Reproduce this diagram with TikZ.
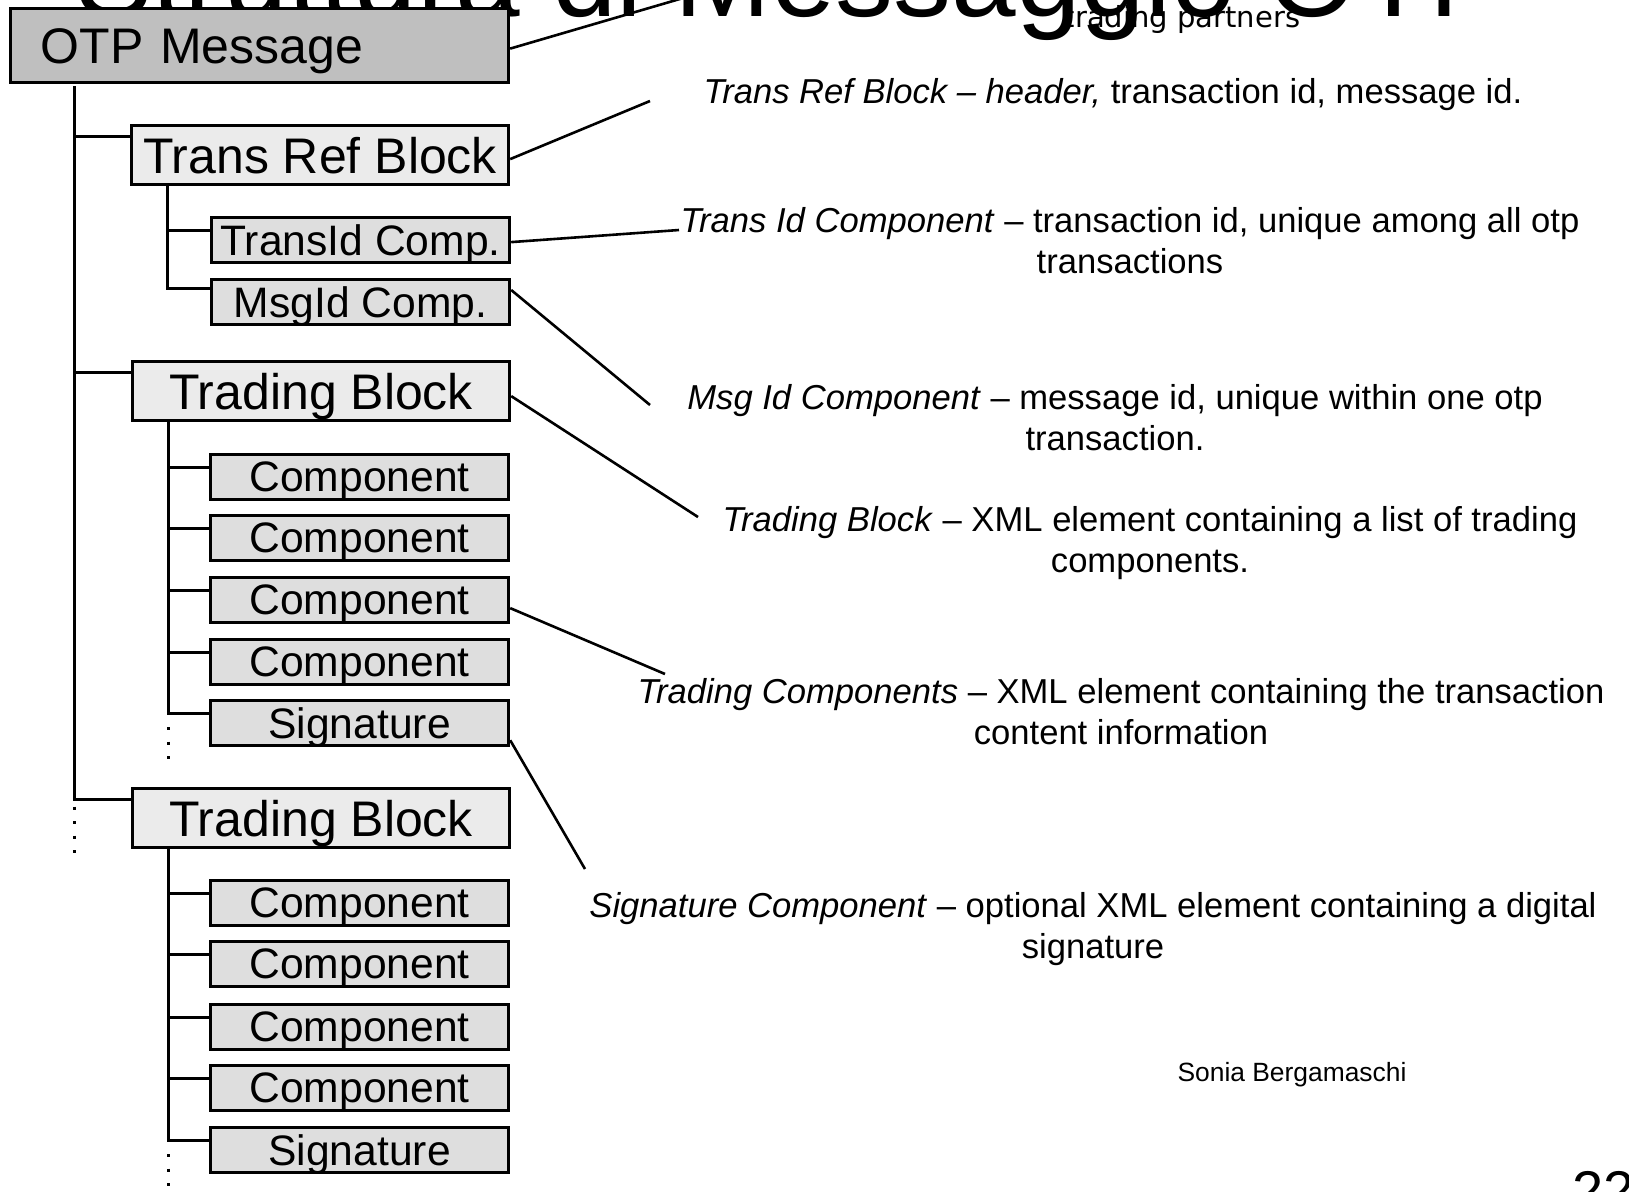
\documentclass[tikz,border=0pt]{standalone}
\usepackage{fontspec}
\setmainfont{Liberation Sans}
\newfontfamily\dejavu{DejaVu Sans}
\usetikzlibrary{positioning}

\tikzset{
    blk/.style={draw, line width=1.6pt, fill=black!8, inner sep=0pt, anchor=north west, text depth=0pt,
        minimum width=188.5pt, minimum height=29.5pt, font=\fontsize{25}{25}\selectfont},
    comp/.style={draw, line width=1.6pt, fill=black!13, inner sep=0pt, anchor=north west, text depth=0pt,
        minimum width=149pt, minimum height=22.5pt, font=\fontsize{21.3}{21.3}\selectfont},
    desc/.style={align=center, font=\fontsize{17.3}{20.5}\selectfont},
    tree/.style={line width=1.5pt},
    lead/.style={line width=1.3pt},
    contdots/.style={line width=1.5pt, dash pattern=on 1.5pt off 5.75pt},
}

\begin{document}
\begin{tikzpicture}[x=0.5pt, y=-0.5pt]
    \useasboundingbox (0,0) rectangle (1629,1191);
    \fill[white] (0,0) rectangle (1629,1191);

    % title, cut by the top edge
    \node[font=\fontsize{58}{58}\selectfont, anchor=base] (title) at (791,16) {Struttura di Messaggio OTP};
    \node[font=\dejavu\fontsize{14.5}{14.5}\selectfont, anchor=base] (partners) at (1182,27) {trading partners};

    % message tree
    \node[draw, line width=1.6pt, fill=black!25, inner xsep=15pt, inner ysep=0pt, anchor=north west,
        text width=219pt, align=left, minimum height=37pt, text depth=0pt, font=\fontsize{25}{25}\selectfont]
        (otp) at (9,7) {OTP Message};

    \node[blk] (ref) at (130,124) {Trans Ref Block};
    \node[comp] (tid) at (210,216) {TransId Comp.};
    \node[comp] (mid) at (210,278) {MsgId Comp.};

    \node[blk] (tbA) at (131,360) {Trading Block};
    \node[comp] (a1) at (209,453) {Component};
    \node[comp] (a2) at (209,514) {Component};
    \node[comp] (a3) at (209,576) {Component};
    \node[comp] (a4) at (209,638) {Component};
    \node[comp] (asig) at (209,699) {Signature};

    \node[blk] (tbB) at (131,787) {Trading Block};
    \node[comp] (b1) at (209,879) {Component};
    \node[comp] (b2) at (209,940) {Component};
    \node[comp] (b3) at (209,1003) {Component};
    \node[comp] (b4) at (209,1064) {Component};
    \node[comp] (bsig) at (209,1126) {Signature};

    % trunk of the message
    \coordinate (trunk) at (74,86);
    \draw[tree] (trunk) |- ([yshift=-6pt]tbB.north west) coordinate (tbBin);
    \draw[tree] ([yshift=-6pt]ref.north west) -- ++(-28pt,0);
    \draw[tree] ([yshift=-6pt]tbA.north west) -- ++(-28.5pt,0);
    \path (trunk |- tbBin) ++(0,-3.75pt) coordinate (dM);
    \draw[contdots] (dM) -- ++(0,-23.25pt);

    % trans ref block
    \draw[tree] ([xshift=18.5pt]ref.south west) |- ([yshift=-5pt]mid.north west);
    \draw[tree] ([yshift=-7pt]tid.north west) -- ++(-20.5pt,0);

    % first trading block
    \draw[tree] ([xshift=18.5pt]tbA.south west) coordinate (tA) |- ([yshift=-7pt]asig.north west) coordinate (asigin);
    \draw[tree] ([yshift=-7pt]a1.north west) -- ++(-20.5pt,0);
    \draw[tree] ([yshift=-7pt]a2.north west) -- ++(-20.5pt,0);
    \draw[tree] ([yshift=-7pt]a3.north west) -- ++(-20.5pt,0);
    \draw[tree] ([yshift=-7pt]a4.north west) -- ++(-20.5pt,0);
    \path (tA |- asigin) ++(0,-7pt) coordinate (dA);
    \draw[contdots] (dA) -- ++(0,-16pt);

    % second trading block
    \draw[tree] ([xshift=18.5pt]tbB.south west) coordinate (tB) |- ([yshift=-7pt]bsig.north west) coordinate (bsigin);
    \draw[tree] ([yshift=-7pt]b1.north west) -- ++(-20.5pt,0);
    \draw[tree] ([yshift=-7pt]b2.north west) -- ++(-20.5pt,0);
    \draw[tree] ([yshift=-7pt]b3.north west) -- ++(-20.5pt,0);
    \draw[tree] ([yshift=-7pt]b4.north west) -- ++(-20.5pt,0);
    \path (tB |- bsigin) ++(0,-7pt) coordinate (dB);
    \draw[contdots] (dB) -- ++(0,-30pt);

    % descriptions
    \node[desc] (dref) at (1113,95) {\textit{Trans Ref Block -- header,} transaction id, message id.};
    \node[desc] (dtid) at (1130,241) {\textit{Trans Id Component} -- transaction id, unique among all otp\\transactions};
    \node[desc] (dmid) at (1115,418) {\textit{Msg Id Component} -- message id, unique within one otp\\transaction.};
    \node[desc] (dtb) at (1150,543) {\textit{Trading Block} -- XML element containing a list of trading\\components.};
    \node[desc] (dcomp) at (1121,712) {\textit{Trading Components} -- XML element containing the transaction\\content information};
    \node[desc] (dsig) at (1093,929) {\textit{Signature Component} -- optional XML element containing a digital\\signature};

    \coordinate (otpL) at (690,-4);
    \coordinate (refL) at (650,101);
    \coordinate (tidL) at (679,230);
    \coordinate (midL) at (650,405);
    \coordinate (tbL) at (698,517);
    \coordinate (compL) at (665,674);
    \coordinate (sigL) at (585,869);

    \draw[lead] ([yshift=-1.5pt]otp.east) -- (otpL);
    \draw[lead] ([yshift=-2pt]ref.east) -- (refL);
    \draw[lead] ([yshift=-1pt]tid.east) -- (tidL);
    \draw[lead] ([yshift=-6pt]mid.north east) -- (midL);
    \draw[lead] ([yshift=-2.5pt]tbA.east) -- (tbL);
    \draw[lead] ([yshift=-4pt]a3.east) -- (compL);
    \draw[lead] ([yshift=3.5pt]asig.south east) -- (sigL);

    \node[font=\fontsize{13.2}{13.2}\selectfont] (author) at (1292,1075) {Sonia Bergamaschi};
    \node[font=\fontsize{28}{28}\selectfont, anchor=north west, inner sep=0pt] (pageno) at (1572,1171) {22};
\end{tikzpicture}
\end{document}
